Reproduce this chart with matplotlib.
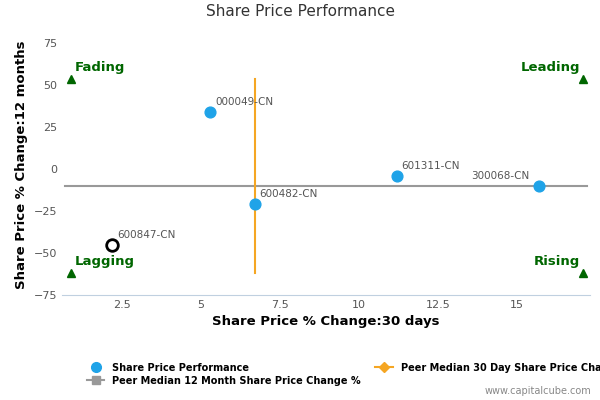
import matplotlib.pyplot as plt
from matplotlib.lines import Line2D

names = ["000049-CN", "601311-CN", "300068-CN", "600482-CN"]
x_vals = [5.3, 11.2, 15.7, 6.7]
y_vals = [34, -4, -10, -21]
focus_name = "600847-CN"
focus_x, focus_y = 2.2, -45
median_30d = 6.7
median_12m = -10
quad_labels = ["Fading", "Leading", "Lagging", "Rising"]

fig = plt.figure(figsize=(6, 4), dpi=100)
ax = fig.add_axes([0.103, 0.2625, 0.88, 0.65])
xmin, xmax, ymin, ymax = 0.6, 17.3, -75, 80

ax.plot([xmin + 0.1, xmax - 0.1], [median_12m] * 2, color="#999999", lw=1.5, zorder=1)
ax.plot([median_30d] * 2, [54, -62], color="#f5a623", lw=1.5, zorder=1)
ax.scatter(x_vals, y_vals, s=60, color="#1fa3e8", zorder=3)
for n, x, y in zip(names, x_vals, y_vals):
    ha = "right" if x > 15 else "left"
    dx = -0.3 if x > 15 else 0.15
    ax.text(x + dx, y + 3, n, fontsize=7.5, color="#555555", ha=ha, va="bottom")
ax.scatter([focus_x], [focus_y], s=70, facecolor="white", edgecolor="black", lw=2, zorder=4)
ax.text(focus_x + 0.15, focus_y + 3, focus_name, fontsize=7.5, color="#555555", va="bottom")

green = "#006600"
for (x, y), lab in zip([(0.9, 54), (17.1, 54), (0.9, -62), (17.1, -62)], quad_labels):
    ax.plot(x, y, marker="^", color=green, ms=6, clip_on=False, zorder=5)
    left = x < 5
    ax.text(x + (0.1 if left else -0.1), y + 3, lab, color=green, fontsize=9.5,
            fontweight="bold", ha="left" if left else "right", va="bottom")

ax.set_xlim(xmin, xmax)
ax.set_ylim(ymin, ymax)
ax.set_xticks([2.5, 5, 7.5, 10, 12.5, 15])
ax.set_xticklabels(["2.5", "5", "7.5", "10", "12.5", "15"])
ax.set_yticks([-75, -50, -25, 0, 25, 50, 75])
ax.tick_params(labelsize=8, colors="#555555", length=0)
for s in ["top", "right", "left"]:
    ax.spines[s].set_visible(False)
ax.spines["bottom"].set_color("#c0d0e0")
ax.set_xlabel("Share Price % Change:30 days", fontsize=9.5, fontweight="bold")
ax.set_ylabel("Share Price % Change:12 months", fontsize=9.5, fontweight="bold")
fig.text(0.5, 0.96, "Share Price Performance", ha="center", fontsize=11, color="#333333")

handles = [
    Line2D([], [], marker="o", color="#1fa3e8", ls="", ms=7),
    Line2D([], [], marker="s", color="#999999", ms=6, lw=1.5),
    Line2D([], [], marker="D", color="#f5a623", ms=5, lw=1.5),
]
labels = ["Share Price Performance", "Peer Median 12 Month Share Price Change %",
          "Peer Median 30 Day Share Price Change %"]
fig.legend(handles, labels, loc="upper left", bbox_to_anchor=(0.13, 0.115), ncol=2,
           frameon=False, prop={"weight": "bold", "size": 7},
           handlelength=1.8, columnspacing=1.5, labelspacing=0.3)
fig.text(0.985, 0.015, "www.capitalcube.com", ha="right", fontsize=7, color="#888888")
fig.savefig("out.png")
